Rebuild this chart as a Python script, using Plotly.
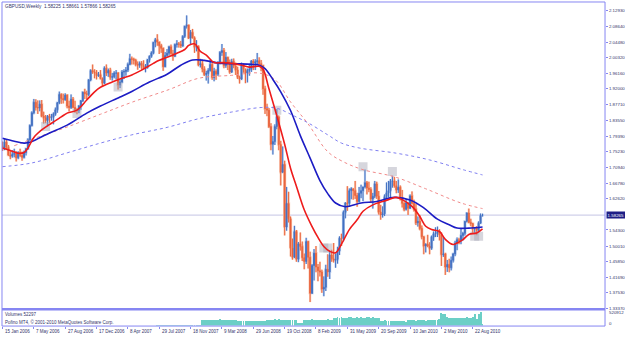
import pandas as pd
import plotly.graph_objects as go

# ---------------- data ----------------
title_text = "GBPUSD,Weekly  1.58225 1.58661 1.57866 1.58265"
first_week = "2006-01-15"

opens = [1.7680,1.7590,1.7780,1.7640,1.7430,1.7400,1.7450,1.7470,1.7360,1.7500,
 1.7420,1.7370,1.7500,1.7600,1.7840,1.8220,1.8560,1.8840,1.8700,1.8690,
 1.8790,1.8470,1.8430,1.8350,1.8470,1.8430,1.8450,1.8530,1.8640,1.8830,
 1.9050,1.8940,1.8910,1.9030,1.8740,1.8700,1.8920,1.8700,1.8620,1.8620,
 1.8740,1.8880,1.9110,1.9070,1.9050,1.9440,1.9690,1.9650,1.9630,1.9550,
 1.9580,1.9480,1.9350,1.9750,1.9620,1.9690,1.9510,1.9520,1.9620,1.9620,
 1.9300,1.9380,1.9650,1.9660,1.9700,1.9850,2.0000,1.9990,1.9960,1.9850,
 1.9830,1.9880,1.9820,1.9760,1.9770,1.9980,2.0070,2.0160,2.0440,2.0510,
 2.0450,2.0350,2.0280,1.9790,2.0090,2.0150,2.0320,2.0140,2.0070,2.0380,
 2.0400,2.0390,2.0340,2.0600,2.0870,2.0900,2.0550,2.0710,2.0560,2.0310,
 2.0330,1.9840,1.9870,1.9730,1.9580,1.9610,1.9690,1.9850,1.9500,1.9670,
 1.9590,1.9880,2.0170,2.0220,1.9820,2.0040,1.9880,1.9650,1.9930,1.9810,
 1.9700,1.9510,1.9460,1.9820,1.9720,1.9620,1.9690,1.9720,1.9940,1.9890,
 1.9920,1.9950,1.9870,1.9820,1.9200,1.8670,1.8630,1.8190,1.7720,1.7790,
 1.8190,1.8450,1.7710,1.6970,1.7180,1.5510,1.6140,1.5730,1.4950,1.4700,
 1.5390,1.4650,1.5060,1.4990,1.4690,1.4590,1.5120,1.4700,1.3740,1.4480,
 1.4810,1.4440,1.4340,1.4310,1.3850,1.3900,1.4380,1.4310,1.4760,1.4660,
 1.4620,1.4640,1.4870,1.5210,1.5200,1.5900,1.6150,1.6140,1.6480,1.6530,
 1.6480,1.6350,1.6190,1.6410,1.6480,1.6580,1.6690,1.6550,1.6510,1.6260,
 1.6330,1.6660,1.6330,1.5910,1.5830,1.5860,1.6320,1.6420,1.6480,1.6730,
 1.6740,1.6610,1.6500,1.6570,1.6280,1.6140,1.5980,1.6150,1.6010,1.6340,
 1.6140,1.5990,1.5620,1.5660,1.5470,1.5250,1.5000,1.5050,1.5000,1.4940,
 1.5240,1.5320,1.5340,1.5380,1.5300,1.4770,1.4790,1.4440,1.4510,1.4420,
 1.4620,1.4790,1.5080,1.5170,1.5150,1.5280,1.5340,1.5660,1.5880,1.5630,
 1.5600,1.5460,1.5480,1.5420,1.5610,1.58225]

highs = [1.7790,1.7880,1.7850,1.7700,1.7540,1.7560,1.7600,1.7530,1.7530,1.7600,
 1.7520,1.7550,1.7620,1.7880,1.8250,1.8600,1.8930,1.8920,1.8890,1.8890,
 1.8900,1.8590,1.8500,1.8500,1.8530,1.8530,1.8570,1.8700,1.8840,1.9125,
 1.9080,1.9070,1.9080,1.9050,1.8880,1.9050,1.8980,1.8880,1.8680,1.8770,
 1.8900,1.9120,1.9200,1.9150,1.9450,1.9720,1.9848,1.9720,1.9700,1.9650,
 1.9700,1.9500,1.9800,1.9850,1.9740,1.9760,1.9620,1.9670,1.9700,1.9650,
 1.9450,1.9700,1.9720,1.9780,1.9900,2.0133,2.0060,2.0030,2.0000,1.9930,
 1.9930,1.9940,1.9960,1.9860,1.9990,2.0090,2.0200,2.0450,2.0560,2.0657,
 2.0450,2.0400,2.0300,2.0180,2.0260,2.0350,2.0380,2.0240,2.0410,2.0500,
 2.0450,2.0480,2.0630,2.0880,2.1161,2.0900,2.0770,2.0800,2.0600,2.0500,
 2.0360,2.0000,1.9970,1.9800,1.9680,1.9750,1.9970,1.9890,1.9760,1.9720,
 1.9940,2.0210,2.0397,2.0290,2.0180,2.0050,1.9980,2.0000,2.0010,1.9900,
 1.9790,1.9550,1.9900,1.9880,1.9740,1.9740,1.9870,1.9970,1.9990,1.9990,
 2.0158,2.0040,1.9970,1.9840,1.9280,1.8800,1.8690,1.8280,1.7940,1.8250,
 1.8660,1.8490,1.7810,1.7660,1.7280,1.6580,1.6450,1.5790,1.5200,1.5540,
 1.5430,1.5110,1.5362,1.5120,1.4800,1.5220,1.5140,1.4850,1.4520,1.4920,
 1.5000,1.4520,1.4580,1.4370,1.4190,1.4500,1.4780,1.4860,1.4900,1.5080,
 1.4800,1.4980,1.5260,1.5330,1.5950,1.6170,1.6600,1.6540,1.6570,1.6530,
 1.6740,1.6420,1.6580,1.6640,1.6580,1.7043,1.6740,1.6720,1.6570,1.6420,
 1.6740,1.6720,1.6470,1.6100,1.6060,1.6380,1.6700,1.6740,1.6790,1.6877,
 1.6850,1.6740,1.6780,1.6620,1.6500,1.6170,1.6250,1.6170,1.6380,1.6460,
 1.6240,1.6120,1.5790,1.5830,1.5550,1.5260,1.5070,1.5300,1.5100,1.5280,
 1.5390,1.5500,1.5520,1.5450,1.5360,1.5240,1.4820,1.4630,1.4660,1.4720,
 1.4820,1.5140,1.5230,1.5220,1.5470,1.5380,1.5660,1.5900,1.6000,1.5730,
 1.5620,1.5500,1.5530,1.5660,1.5870,1.58661]

lows = [1.7540,1.7560,1.7590,1.7410,1.7320,1.7360,1.7370,1.7260,1.7320,1.7380,
 1.7280,1.7340,1.7420,1.7570,1.7800,1.8190,1.8520,1.8620,1.8530,1.8600,
 1.8440,1.8270,1.8280,1.8200,1.8290,1.8350,1.8250,1.8480,1.8560,1.8790,
 1.8800,1.8810,1.8880,1.8680,1.8600,1.8660,1.8680,1.8560,1.8520,1.8550,
 1.8640,1.8850,1.8930,1.8910,1.9000,1.9400,1.9600,1.9480,1.9450,1.9520,
 1.9450,1.9260,1.9330,1.9540,1.9520,1.9440,1.9420,1.9480,1.9450,1.9180,
 1.9220,1.9350,1.9460,1.9550,1.9650,1.9830,1.9850,1.9850,1.9800,1.9710,
 1.9760,1.9730,1.9730,1.9640,1.9740,1.9900,2.0030,2.0120,2.0310,2.0350,
 2.0130,2.0160,1.9680,1.9780,2.0060,2.0090,2.0110,1.9950,2.0050,2.0300,
 2.0300,2.0290,2.0330,2.0560,2.0810,2.0530,2.0380,2.0550,2.0160,2.0200,
 1.9800,1.9770,1.9640,1.9540,1.9420,1.9340,1.9660,1.9440,1.9400,1.9440,
 1.9540,1.9850,2.0080,1.9750,1.9760,1.9700,1.9600,1.9620,1.9750,1.9570,
 1.9460,1.9340,1.9440,1.9630,1.9350,1.9370,1.9550,1.9650,1.9700,1.9700,
 1.9860,1.9800,1.9670,1.9040,1.8530,1.8470,1.8150,1.7560,1.7444,1.7700,
 1.8120,1.7560,1.6620,1.6960,1.5285,1.5410,1.5630,1.4720,1.4637,1.4680,
 1.4580,1.4570,1.4880,1.4600,1.4380,1.4520,1.4400,1.3503,1.3720,1.4080,
 1.4300,1.4060,1.4190,1.3750,1.3660,1.3800,1.4180,1.4120,1.4580,1.4560,
 1.4420,1.4530,1.4760,1.5000,1.5130,1.5740,1.5940,1.6050,1.6250,1.6240,
 1.6260,1.6050,1.6160,1.6280,1.6200,1.6540,1.6380,1.6440,1.6160,1.6000,
 1.6280,1.6260,1.5840,1.5705,1.5760,1.5800,1.6260,1.6300,1.6280,1.6560,
 1.6560,1.6410,1.6420,1.6220,1.6030,1.5930,1.5950,1.5830,1.5990,1.6110,
 1.5920,1.5560,1.5520,1.5420,1.5180,1.4781,1.4830,1.4970,1.4780,1.4900,
 1.5140,1.5240,1.5240,1.5150,1.4470,1.4710,1.4229,1.4310,1.4300,1.4350,
 1.4560,1.4730,1.4890,1.5050,1.5050,1.5150,1.5280,1.5630,1.5610,1.5530,
 1.5340,1.5340,1.5290,1.5380,1.5600,1.57866]

closes = [1.7590,1.7780,1.7640,1.7430,1.7400,1.7450,1.7470,1.7360,1.7500,1.7420,
 1.7370,1.7500,1.7600,1.7840,1.8220,1.8560,1.8840,1.8700,1.8690,1.8790,
 1.8470,1.8430,1.8350,1.8470,1.8430,1.8450,1.8530,1.8640,1.8830,1.9050,
 1.8940,1.8910,1.9030,1.8740,1.8700,1.8920,1.8700,1.8620,1.8620,1.8740,
 1.8880,1.9110,1.9070,1.9050,1.9440,1.9690,1.9650,1.9630,1.9550,1.9580,
 1.9480,1.9350,1.9750,1.9620,1.9690,1.9510,1.9520,1.9620,1.9620,1.9300,
 1.9380,1.9650,1.9660,1.9700,1.9850,2.0000,1.9990,1.9960,1.9850,1.9830,
 1.9880,1.9820,1.9760,1.9770,1.9980,2.0070,2.0160,2.0440,2.0510,2.0450,
 2.0350,2.0280,1.9790,2.0090,2.0150,2.0320,2.0140,2.0070,2.0380,2.0400,
 2.0390,2.0340,2.0600,2.0870,2.0900,2.0550,2.0710,2.0560,2.0310,2.0330,
 1.9840,1.9870,1.9730,1.9580,1.9610,1.9690,1.9850,1.9500,1.9670,1.9590,
 1.9880,2.0170,2.0220,1.9820,2.0040,1.9880,1.9650,1.9930,1.9810,1.9700,
 1.9510,1.9460,1.9820,1.9720,1.9620,1.9690,1.9720,1.9940,1.9890,1.9920,
 1.9950,1.9870,1.9820,1.9200,1.8670,1.8630,1.8190,1.7720,1.7790,1.8190,
 1.8450,1.7710,1.6970,1.7180,1.5510,1.6140,1.5730,1.4950,1.4700,1.5390,
 1.4650,1.5060,1.4990,1.4690,1.4590,1.5120,1.4700,1.3740,1.4480,1.4810,
 1.4440,1.4340,1.4310,1.3850,1.3900,1.4380,1.4310,1.4760,1.4660,1.4620,
 1.4640,1.4870,1.5210,1.5200,1.5900,1.6150,1.6140,1.6480,1.6530,1.6480,
 1.6350,1.6190,1.6410,1.6480,1.6580,1.6690,1.6550,1.6510,1.6260,1.6330,
 1.6660,1.6330,1.5910,1.5830,1.5860,1.6320,1.6420,1.6480,1.6730,1.6740,
 1.6610,1.6500,1.6570,1.6280,1.6140,1.5980,1.6150,1.6010,1.6340,1.6140,
 1.5990,1.5620,1.5660,1.5470,1.5250,1.5000,1.5050,1.5000,1.4940,1.5240,
 1.5320,1.5340,1.5380,1.5300,1.4770,1.4790,1.4440,1.4510,1.4420,1.4620,
 1.4790,1.5080,1.5170,1.5150,1.5280,1.5340,1.5660,1.5880,1.5630,1.5600,
 1.5460,1.5480,1.5420,1.5610,1.5822,1.58265]

# weekly tick volumes, thousands
volumes_k = [0,0,0,0,0,0,0,0,0,0, 0,0,0,0,0,0,0,0,0,0,
 0,0,0,0,0,0,0,0,0,0, 0,0,0,0,0,0,0,0,0,0,
 0,0,0,0,0,0,0,0,0,0, 0,0,0,0,0,0,0,0,0,0,
 0,0,0,0,0,0,0,0,0,0, 0,0,0,0,0,0,0,0,0,
 12,15,14,16,18,15,14,13,15,16,14,15,17,18,16,15,14,16,15,14,13,15,16,
 230,210,225,235,215,220,230,225,210,240,235,220,205,215,225,230,210,220,200,
 185,195,180,190,200,175,185,190,180,195,185,170,190,200,210,
 225,235,215,240,230,245,225,220,235,215,230,225,210,220,205,
 120,95,110,
 215,230,235,225,240,220,230,225,235,215,230,225,240,220,230,
 290,305,315,300,320,310,295,305,320,330,310,300,315,305,325,310,300,320,315,305,325,310,300,290,
 200,195,205,190,185,200,195,180,190,200,185,175,165,150,
 205,215,210,220,200,215,205,210,225,200,215,210,220,205,215,230,240,
 470,440,455,
 330,300,285,310,290,280,300,295,285,310,320,295,305,315,
 430,250,430,520.912,52.297]

# moving averages (week index, value)
fast_ma_week = [0,4,8,11,13,16,20,25,30,33,38,43,47,50,56,61,66,71,77,80,
 84,89,93,95,98,101,104,108,112,117,122,126,131,133,136,140,144,147,150,154,
 158,161,164,167,170,173,177,181,184,189,194,197,201,204,209,213,216,219,223,226,
 230,232,235,238,242,245]
fast_ma_val = [1.762,1.755,1.748,1.750,1.762,1.790,1.810,1.828,1.845,1.855,
 1.863,1.890,1.912,1.924,1.938,1.948,1.957,1.970,1.988,1.996,
 2.004,2.015,2.025,2.036,2.040,2.020,2.010,1.990,1.990,1.988,
 1.983,1.978,1.980,1.972,1.920,1.848,1.772,1.708,1.660,1.597,
 1.552,1.523,1.499,1.486,1.482,1.505,1.544,1.570,1.593,1.610,
 1.619,1.624,1.630,1.624,1.606,1.579,1.553,1.544,1.539,1.518,
 1.504,1.508,1.517,1.531,1.535,1.546]

slow_ma_week = [0,6,11,14,20,24,33,43,50,60,66,75,84,91,97,103,110,118,125,131,
 134,138,142,147,152,157,162,166,170,175,183,191,200,208,215,222,228,232,238,245]
slow_ma_val = [1.788,1.780,1.775,1.777,1.792,1.802,1.823,1.855,1.874,1.898,
 1.913,1.938,1.959,1.983,1.997,1.996,1.989,1.987,1.986,1.983,
 1.974,1.945,1.912,1.862,1.795,1.735,1.675,1.640,1.615,1.605,
 1.615,1.619,1.630,1.623,1.602,1.572,1.557,1.548,1.548,1.551]

ma100_week = [6,11,22,33,50,66,85,100,117,131,139,147,156,166,174,184,200,216,234,245]
ma100_val = [1.768,1.778,1.798,1.818,1.852,1.884,1.918,1.948,1.956,1.962,
 1.945,1.885,1.826,1.752,1.725,1.704,1.685,1.653,1.615,1.600]

ma200_week = [0,15,33,50,66,84,100,117,132,140,149,156,166,173,182,201,218,235,245]
ma200_val = [1.712,1.722,1.749,1.775,1.797,1.817,1.840,1.858,1.870,1.868,
 1.847,1.829,1.797,1.775,1.762,1.748,1.730,1.704,1.690]

box_week = [22, 38, 59, 140, 164, 166, 184, 199, 241, 243]
box_price = [1.819, 1.854, 1.925, 1.863, 1.495, 1.495, 1.712, 1.699, 1.526, 1.526]

price_labels = ["2.12930","2.08640","2.04480","2.00320","1.96160","1.92000","1.87710",
 "1.83550","1.79390","1.75230","1.70940","1.66780","1.62620","1.54300","1.50010",
 "1.45850","1.41690","1.37530","1.33370"]
current_price = 1.58265
volume_labels = ["520912", "0"]
date_tick_week = [0,16,32,48,64,80,96,112,128,144,160,176,192,208,224,240]
date_labels = ["15 Jan 2006","7 May 2006","27 Aug 2006","17 Dec 2006","8 Apr 2007",
 "29 Jul 2007","18 Nov 2007","9 Mar 2008","29 Jun 2008","19 Oct 2008","8 Feb 2009",
 "31 May 2009","20 Sep 2009","10 Jan 2010","2 May 2010","22 Aug 2010"]
volume_text = "Volumes 52297"
copyright_text = "Pofino MT4, \u00a9 2001-2010 MetaQuotes Software Corp."

# ---------------- helpers ----------------
W, H = 625, 337
start = pd.Timestamp(first_week)
def wk(i):
    return start + pd.Timedelta(days=7 * i)
dates = [wk(i) for i in range(len(closes))]
vol_dates = [wk(i) for i in range(len(volumes_k))]
volumes = [v * 1000 for v in volumes_k]

px_per_day = 1.9625 / 7.0
x_left = start - pd.Timedelta(days=0.5 / px_per_day)
x_right = x_left + pd.Timedelta(days=604 / px_per_day)

def PX(x):
    return x / W
def PY(y):
    return 1 - y / H

# price scale: 2.12930 at y=10.5, 0.002655 per pixel
def price_at(y):
    return 2.1293 - (y - 10.5) * 0.002655

FRAME = "#8686f2"
TXT = "#34346a"
FONT = "Liberation Sans"

fig = go.Figure()

# horizontal current price line
fig.add_shape(type="line", xref="paper", yref="y", x0=PX(2), x1=PX(606),
              y0=current_price, y1=current_price, line=dict(color="#c4c4e4", width=1), layer="below")

# ghost candles (halo)
fig.add_trace(go.Candlestick(x=dates, open=opens, high=highs, low=lows, close=closes,
    increasing=dict(line=dict(color="#c2d4f1", width=2.2), fillcolor="#c2d4f1"),
    decreasing=dict(line=dict(color="#fac9b3", width=2.2), fillcolor="#fac9b3"),
    whiskerwidth=0, hoverinfo="skip", showlegend=False, xaxis="x", yaxis="y"))
# candles
fig.add_trace(go.Candlestick(x=dates, open=opens, high=highs, low=lows, close=closes,
    increasing=dict(line=dict(color="#4572c2", width=1), fillcolor="#3262b8"),
    decreasing=dict(line=dict(color="#ea6842", width=1), fillcolor="#da4620"),
    whiskerwidth=0, showlegend=False, xaxis="x", yaxis="y"))

# fractal-like grey boxes
fig.add_trace(go.Scatter(x=[wk(i) for i in box_week], y=box_price, mode="markers",
    marker=dict(symbol="square", size=9, color="rgba(165,165,180,0.45)", line=dict(width=0)),
    showlegend=False, hoverinfo="skip"))

# moving averages
fig.add_trace(go.Scatter(x=[wk(i) for i in ma200_week], y=ma200_val, mode="lines",
    line=dict(color="#7f7ff0", width=1, dash="dot", shape="spline", smoothing=1.0), showlegend=False))
fig.add_trace(go.Scatter(x=[wk(i) for i in ma100_week], y=ma100_val, mode="lines",
    line=dict(color="#f08a8a", width=1, dash="dot", shape="spline", smoothing=1.0), showlegend=False))
fig.add_trace(go.Scatter(x=[wk(i) for i in slow_ma_week], y=slow_ma_val, mode="lines",
    line=dict(color="#1c1cc4", width=1.6, shape="spline", smoothing=1.0), showlegend=False))
fig.add_trace(go.Scatter(x=[wk(i) for i in fast_ma_week], y=fast_ma_val, mode="lines",
    line=dict(color="#ee1c1c", width=1.6, shape="spline", smoothing=1.0), showlegend=False))

# volumes
fig.add_trace(go.Bar(x=vol_dates, y=volumes, marker=dict(color="#6ccfc6", line=dict(width=0)),
    width=3.2 * 86400000, xaxis="x2", yaxis="y2", showlegend=False))

tickvals = [float(s) for s in price_labels]

fig.update_layout(
    width=W, height=H, margin=dict(l=0, r=0, t=0, b=0),
    paper_bgcolor="white", plot_bgcolor="white",
    font=dict(family=FONT, size=4.6, color=TXT),
    xaxis=dict(domain=[PX(2), PX(606)], range=[x_left, x_right], type="date",
               showticklabels=False, showgrid=False, zeroline=False, showline=False,
               rangeslider=dict(visible=False), anchor="y", fixedrange=True),
    yaxis=dict(domain=[PY(310.5), PY(2)], range=[price_at(310.5), price_at(2)],
               side="right", tickmode="array", tickvals=tickvals, ticktext=price_labels,
               ticks="outside", ticklen=2, tickcolor=FRAME, tickwidth=1,
               tickfont=dict(family=FONT, size=4.4, color=TXT),
               showgrid=False, zeroline=False, showline=False, anchor="x"),
    xaxis2=dict(domain=[PX(2), PX(606)], range=[x_left, x_right], type="date",
                tickmode="array", tickvals=[wk(i) for i in date_tick_week],
                showticklabels=False, ticks="outside", ticklen=2, tickcolor=FRAME,
                showgrid=False, zeroline=False, showline=False, anchor="y2"),
    yaxis2=dict(domain=[PY(327.5), PY(311.5)], range=[0, 594000], side="right",
                showticklabels=False, showgrid=False, zeroline=False, showline=False,
                anchor="x2"),
    bargap=0, showlegend=False,
)

# frame
shapes = [
    dict(x0=2, y0=2, x1=2, y1=328, w=1),
    dict(x0=2, y0=2, x1=606, y1=2, w=1),
    dict(x0=606, y0=2, x1=606, y1=328, w=1),
    dict(x0=2, y0=311, x1=606, y1=311, w=2.5),
    dict(x0=2, y0=328, x1=606, y1=328, w=1),
]
for s in shapes:
    fig.add_shape(type="line", xref="paper", yref="paper",
                  x0=PX(s["x0"]), x1=PX(s["x1"]), y0=PY(s["y0"]), y1=PY(s["y1"]),
                  line=dict(color=FRAME, width=s["w"]))

# current price tag
fig.add_annotation(x=PX(606.5), xref="paper", y=current_price, yref="y", xanchor="left",
                   yanchor="middle", text="1.58265", showarrow=False,
                   font=dict(family=FONT, size=4.4, color="white"),
                   bgcolor="#1e1e86", borderpad=0.6)

# volume axis labels
for lab, yy in zip(volume_labels, [314.8, 325.0]):
    fig.add_annotation(x=PX(608), xref="paper", y=PY(yy), yref="paper", xanchor="left",
                       yanchor="middle", text=lab, showarrow=False,
                       font=dict(family=FONT, size=4.4, color=TXT))

# date labels
for i, lab in zip(date_tick_week, date_labels):
    fig.add_annotation(x=wk(i), xref="x2", y=PY(333.2), yref="paper", xanchor="left",
                       yanchor="middle", xshift=0.5, text=lab, showarrow=False,
                       font=dict(family=FONT, size=4.5, color=TXT))

# texts
fig.add_annotation(x=PX(3.5), xref="paper", y=PY(6.8), yref="paper", xanchor="left",
                   yanchor="middle", text=title_text, showarrow=False,
                   font=dict(family=FONT, size=4.7, color=TXT))
fig.add_annotation(x=PX(3.5), xref="paper", y=PY(316.3), yref="paper", xanchor="left",
                   yanchor="middle", text=volume_text, showarrow=False,
                   font=dict(family=FONT, size=4.5, color=TXT))
fig.add_annotation(x=PX(3.5), xref="paper", y=PY(324.0), yref="paper", xanchor="left",
                   yanchor="middle", text=copyright_text, showarrow=False,
                   font=dict(family=FONT, size=4.5, color=TXT))

fig.write_html("out.html")
